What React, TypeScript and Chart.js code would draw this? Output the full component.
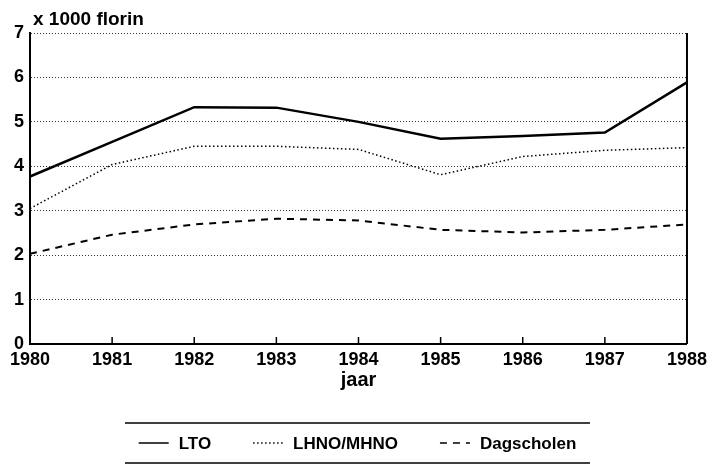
import React, { useEffect, useRef } from "react";
import { Chart, registerables } from "chart.js";

Chart.register(...registerables);

const years = ["1980", "1981", "1982", "1983", "1984", "1985", "1986", "1987", "1988"];
const ltoValues = [3.77, 4.55, 5.33, 5.32, 5.0, 4.62, 4.68, 4.76, 5.89];
const lhnoValues = [3.05, 4.04, 4.45, 4.45, 4.38, 3.81, 4.22, 4.36, 4.42];
const dagValues = [2.03, 2.46, 2.69, 2.82, 2.78, 2.57, 2.51, 2.57, 2.69];
const seriesNames = ["LTO", "LHNO/MHNO", "Dagscholen"];
const yMin = 0;
const yMax = 7;
const yStep = 1;
const yAxisTitle = "x 1000 florin";
const xAxisTitle = "jaar";

const FONT = "'Liberation Sans', Arial, Helvetica, sans-serif";

const decorPlugin = {
  id: "decor",
  afterDraw(chart: any) {
    const ctx = chart.ctx as CanvasRenderingContext2D;
    const area = chart.chartArea;
    const xs = chart.scales.x;
    ctx.save();
    // right frame line
    ctx.strokeStyle = "#000";
    ctx.lineWidth = 2;
    ctx.beginPath();
    ctx.moveTo(area.right, area.top);
    ctx.lineTo(area.right, area.bottom);
    ctx.stroke();
    // inward tick marks on x axis
    ctx.lineWidth = 1.5;
    for (let i = 1; i < years.length - 1; i++) {
      const px = xs.getPixelForValue(i);
      ctx.beginPath();
      ctx.moveTo(px, area.bottom);
      ctx.lineTo(px, area.bottom - 7);
      ctx.stroke();
    }
    // y unit title
    ctx.fillStyle = "#000";
    ctx.font = `bold 19px ${FONT}`;
    ctx.textAlign = "left";
    ctx.textBaseline = "alphabetic";
    ctx.fillText(yAxisTitle, area.left + 3, 25);
    // x axis title
    ctx.font = `bold 20px ${FONT}`;
    ctx.textAlign = "center";
    ctx.textBaseline = "middle";
    ctx.fillText(xAxisTitle, (area.left + area.right) / 2, 380);
    // legend
    const lx0 = 125;
    const lx1 = 590;
    ctx.lineWidth = 1.5;
    ctx.beginPath();
    ctx.moveTo(lx0, 423);
    ctx.lineTo(lx1, 423);
    ctx.moveTo(lx0, 463);
    ctx.lineTo(lx1, 463);
    ctx.stroke();
    ctx.font = `bold 17px ${FONT}`;
    ctx.textAlign = "left";
    const sample = 30;
    const gap = 10;
    const between = 42;
    const widths = chart.data.datasets.map((d: any) => ctx.measureText(d.label).width);
    let total = 0;
    widths.forEach((w: number, i: number) => {
      total += sample + gap + w + (i < widths.length - 1 ? between : 0);
    });
    let x = (lx0 + lx1) / 2 - total / 2;
    const ly = 443;
    chart.data.datasets.forEach((d: any, i: number) => {
      ctx.save();
      ctx.strokeStyle = "#000";
      ctx.lineWidth = Math.min(d.borderWidth, 1.5);
      ctx.setLineDash(d.borderDash || []);
      ctx.beginPath();
      ctx.moveTo(x, ly);
      ctx.lineTo(x + sample, ly);
      ctx.stroke();
      ctx.restore();
      ctx.fillText(d.label, x + sample + gap, ly + 1);
      x += sample + gap + widths[i] + between;
    });
    ctx.restore();
  },
};

export default function App() {
  const ref = useRef<HTMLCanvasElement | null>(null);
  useEffect(() => {
    if (!ref.current) return;
    const chart = new Chart(ref.current, {
      type: "line",
      data: {
        labels: years,
        datasets: [
          {
            label: seriesNames[0],
            data: ltoValues,
            borderColor: "#000",
            borderWidth: 2.5,
            pointRadius: 0,
            tension: 0,
            fill: false,
          },
          {
            label: seriesNames[1],
            data: lhnoValues,
            borderColor: "#000",
            borderWidth: 1.5,
            borderDash: [1.5, 2.5],
            pointRadius: 0,
            tension: 0,
            fill: false,
          },
          {
            label: seriesNames[2],
            data: dagValues,
            borderColor: "#000",
            borderWidth: 2,
            borderDash: [7, 6],
            pointRadius: 0,
            tension: 0,
            fill: false,
          },
        ],
      },
      options: {
        responsive: false,
        animation: false,
        devicePixelRatio: 1,
        layout: { padding: { top: 33, right: 20, left: 0, bottom: 0 } },
        plugins: {
          legend: { display: false },
          tooltip: { enabled: false },
          title: { display: false },
        },
        scales: {
          x: {
            type: "category",
            offset: false,
            grid: { display: false, drawTicks: false },
            border: { display: true, color: "#000", width: 2 },
            ticks: {
              color: "#000",
              padding: 5,
              maxRotation: 0,
              autoSkip: false,
              font: { family: FONT, size: 18, weight: "bold" },
            },
            afterFit(scale: any) {
              scale.height = 132;
            },
          },
          y: {
            min: yMin,
            max: yMax,
            ticks: {
              stepSize: yStep,
              color: "#000",
              padding: 6,
              font: { family: FONT, size: 18, weight: "bold" },
            },
            grid: { color: "#333", lineWidth: 1, drawTicks: false },
            border: { display: true, color: "#000", width: 2, dash: [1, 2] },
            afterFit(scale: any) {
              scale.width = 30;
            },
          },
        },
      },
      plugins: [decorPlugin],
    });
    return () => chart.destroy();
  }, []);
  return (
    <div style={{ position: "fixed", left: 0, top: 0, width: 712, height: 476, background: "#fff" }}>
      <canvas ref={ref} width={712} height={476} style={{ display: "block" }} />
    </div>
  );
}
